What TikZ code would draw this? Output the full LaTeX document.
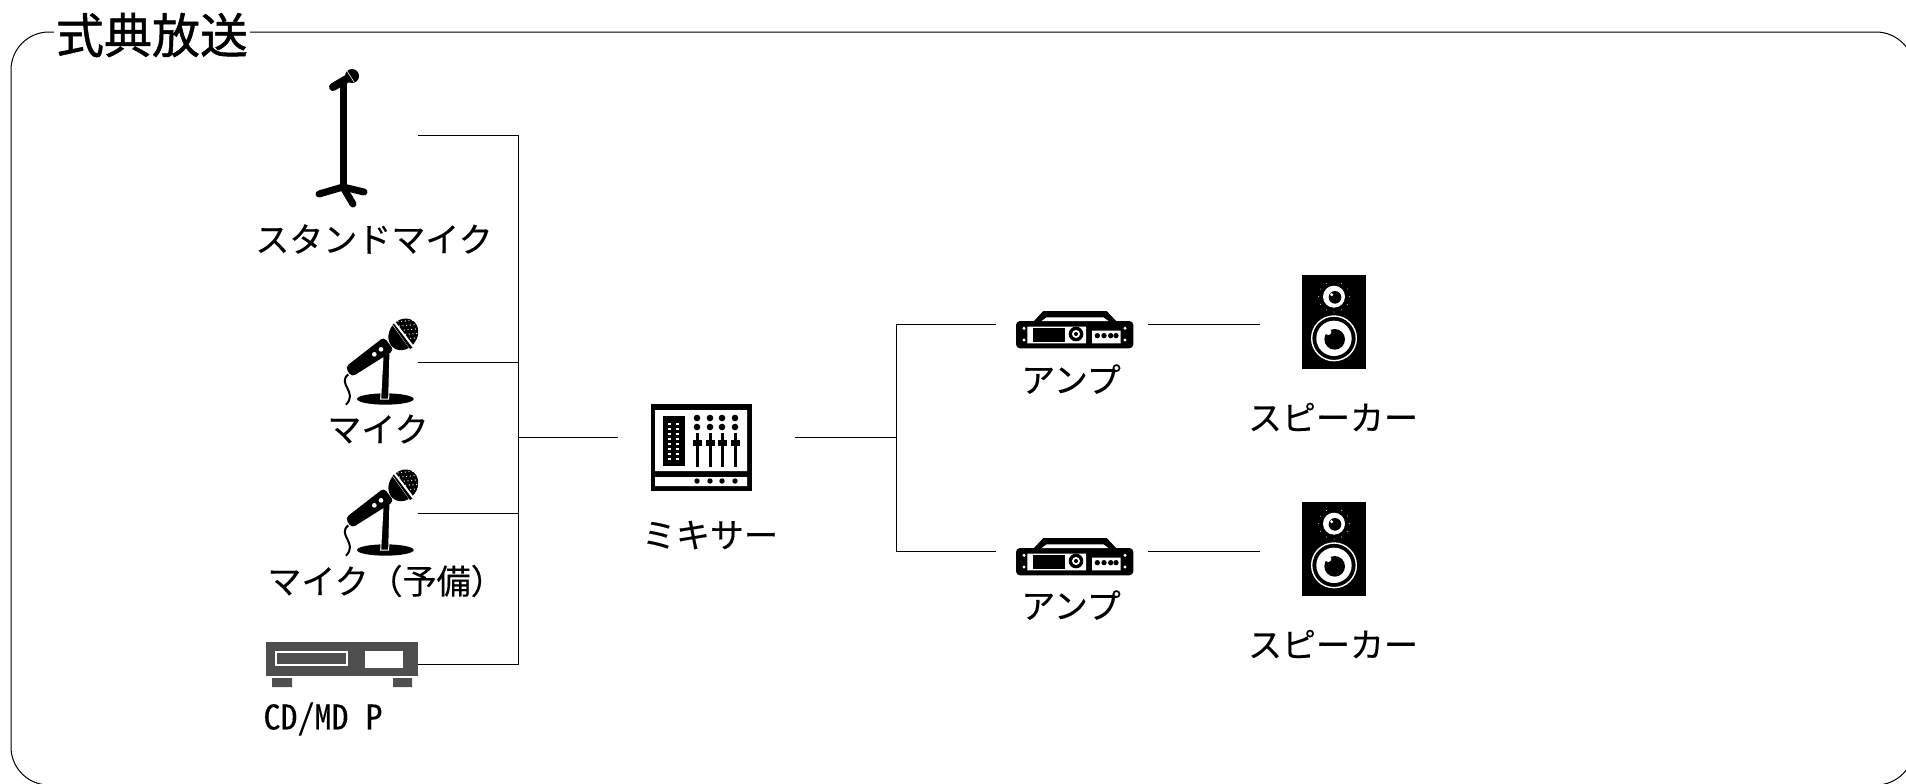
\documentclass[tikz,border=0pt]{standalone}
\usepackage{fontspec}
\setmainfont[FakeBold=0.3]{Noto Sans CJK JP}
\newfontfamily\titlefont[FakeBold=1]{Noto Sans CJK JP}
\newfontfamily\halffont[CharacterWidth=Half,FakeBold=0.3]{Noto Sans CJK JP}
\definecolor{cdgray}{rgb}{0.31, 0.31, 0.31}
\tikzset{
  micicon/.pic={
    \begin{scope}[scale=1/3,shift={(-534,-185)}]
      \fill (436,296) ellipse [x radius=85,y radius=17];
      \draw[white,line width=0.5pt,fill=black] (422,296) -- (430,150) -- (450,150) -- (446,296) -- cycle;
      \fill[rounded corners=2pt] (316,200) -- (432,110) -- (462,150) -- (335,230) -- cycle;
      \fill[white] (403,162) circle (7) (423,147) circle (7);
      \fill (490,102) ellipse [x radius=50,y radius=42,rotate=55];
      \draw[white,line width=1pt] (458,70) -- (510,142);
      \foreach \i in {0,...,5}
        \foreach \j in {0,...,4}
          \fill[white] ({474+\i*11+\j*4},{64+\j*13-\i*1}) circle (2);
      \fill (468,66) -- (458,72) -- (510,146) -- (520,140) -- cycle;
      \draw[white,line width=1pt] (462,64) -- (520,140);
      \draw[line width=1pt] (325,222) .. controls (290,250) and (355,275) .. (318,313);
    \end{scope}
  },
  ampicon/.pic={
    \begin{scope}[scale=1/3,shift={(-216,-192)}]
      \fill[rounded corners=2pt] (48,183) rectangle (400,265);
      \fill (100,185) -- (130,153) -- (320,153) -- (350,185) -- cycle;
      \fill[white] (125,183) -- (140,172) -- (310,172) -- (325,183) -- cycle;
      \fill[white] (82,200) rectangle (258,250) (276,212) rectangle (362,250);
      \fill (100,205) rectangle (195,245);
      \fill (228,222) circle (22);
      \fill[white] (228,222) circle (12);
      \fill (228,222) circle (6);
      \foreach \px in {292,312,332,348}
        \fill (\px,227) circle (8);
      \foreach \px in {72,375}
        \fill[white] (\px,205) circle (5) (\px,240) circle (5);
    \end{scope}
  },
  spkicon/.pic={
    \begin{scope}[scale=1/3,shift={(-162,-186)}]
      \fill (67,45) rectangle (257,328);
      \fill[white] (162,110) circle (33);
      \fill (165,112) circle (19);
      \fill[white] (155,104) circle (5);
      \foreach \a in {-60,-30,...,240}
        \fill[white] ({162+46*cos(\a)},{110+46*sin(\a)}) circle (1.5);
      \draw[white,line width=0.7pt] (162,235) circle (67);
      \fill[white] (162,235) circle (53);
      \fill (164,238) circle (31);
      \fill[white] (145,216) circle (9);
    \end{scope}
  }
}
\begin{document}
\begin{tikzpicture}[x=0.5pt,y=-0.5pt,line width=0.5pt,
    iconbox/.style={minimum width=#1,minimum height=20pt,inner sep=0pt,outer sep=0pt},
    label/.style={font=\fontsize{17}{20}\selectfont,inner sep=0pt},
    conn/.style={draw=black}]
    \useasboundingbox (0,0) rectangle (1906,783);
    \clip (0,0) rectangle (1906,783);
    \draw[black,rounded corners=19pt] (11,32) rectangle (1914,785);
    \node (title) at (152,35) [fill=white,inner sep=1pt,font=\fontsize{24}{28}\selectfont\titlefont] {式典放送};

    % icon boxes
    \node (stand) at (345,135) [iconbox=73pt] {};
    \node (mic) at (378,362) [iconbox=40pt] {};
    \node (micsub) at (378,513) [iconbox=40pt] {};
    \node (cd) at (342,664) [iconbox=76pt] {};
    \node (mixer) at (706.5,437) [iconbox=88.5pt] {};
    \node (ampa) at (1072,324) [iconbox=76pt] {};
    \node (ampb) at (1072,551) [iconbox=76pt] {};
    \node (spka) at (1334,324) [iconbox=74pt] {};
    \node (spkb) at (1334,551) [iconbox=74pt] {};
    \coordinate (busin) at (518,437);
    \coordinate (busout) at (896,437);

    % stand microphone
    \draw[line width=3.5pt,line cap=round] (343,84) -- (343,188);
    \draw[line width=4pt,line cap=round] (333,87) -- (350,77);
    \fill (352,76) circle (7);
    \draw[white,line width=0.3pt] (347,71) -- (354,82);
    \draw[line width=3.5pt,line cap=round] (319,194) -- (343,187) -- (364,192);
    \draw[line width=3.5pt,line cap=round] (343,187) -- (353,204);

    \path (418,362) pic {micicon};
    \path (418,513) pic {micicon};

    % cd player
    \fill[cdgray] (266,642) rectangle (418,676);
    \draw[white,fill=cdgray,line width=1pt] (276,652) rectangle (347,665);
    \fill[white] (365,651) rectangle (403,668);
    \fill[cdgray] (272,678) rectangle (292,687) (393,678) rectangle (412,687);

    % mixer
    \fill (651,404) rectangle (752,491);
    \fill[white] (655,410) rectangle (747,471) (655,477) rectangle (747,486);
    \fill (663,416) rectangle (685,466);
    \foreach \py in {423,428,...,458} {
      \fill[white] (668,\py) rectangle (671,{\py+1.5});
      \fill[white] (676,\py) rectangle (679,{\py+1.5});
    }
    \foreach \px in {697,710,722,735} {
      \fill (\px,418) circle (3.3) (\px,427) circle (3.3);
      \fill (\px-1.5,433) rectangle (\px+1.5,467);
      \fill (\px-4.5,440) rectangle (\px+4.5,446);
      \fill (\px,481) circle (2.7);
    }

    \path (1072,324) pic {ampicon};
    \path (1072,551) pic {ampicon};
    \path (1334,322) pic {spkicon};
    \path (1334,549) pic {spkicon};

    % labels
    \node (lstand) at (374,239) [label] {スタンドマイク};
    \node (lmic) at (378,429) [label] {マイク};
    \node (lmicsub) at (386,581) [label] {マイク（予備）};
    \node (lcd) at (323,719) [label] {\halffont CD/MD P};
    \node (lmixer) at (710,535) [label] {ミキサー};
    \node (lampa) at (1071,379) [label] {アンプ};
    \node (lampb) at (1071,605) [label] {アンプ};
    \node (lspka) at (1333,417) [label] {スピーカー};
    \node (lspkb) at (1333,644) [label] {スピーカー};

    % connectors
    \draw[conn] (stand.east) -| (busin);
    \draw[conn] (cd.east) -| (busin);
    \draw[conn] (mic.east) -- (mic.east -| busin);
    \draw[conn] (micsub.east) -- (micsub.east -| busin);
    \draw[conn] (busin) -- (mixer.west);
    \draw[conn] (mixer.east) -- (busout);
    \draw[conn] (busout) |- (ampa.west);
    \draw[conn] (busout) |- (ampb.west);
    \draw[conn] (ampa.east) -- (spka.west);
    \draw[conn] (ampb.east) -- (spkb.west);
\end{tikzpicture}
\end{document}
